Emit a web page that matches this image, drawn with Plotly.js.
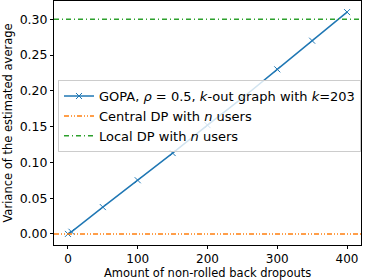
<!DOCTYPE html>
<html><head><meta charset="utf-8">
<script src="https://cdn.plot.ly/plotly-3.0.1.min.js"></script>
<style>body{margin:0;padding:0;}#c{width:374px;height:280px;}</style>
</head><body><div id="c"></div>
<script>
const dropouts = [0, 5, 50, 100, 150, 200, 250, 300, 350, 400];
const gopaVar = [0.0, 0.003, 0.0375, 0.075, 0.113, 0.152, 0.19, 0.23, 0.27, 0.31];
const centralDP = [0.0, 0.0];
const localDP = [0.30, 0.30];
const xTitle = 'Amount of non-rolled back dropouts';
const yTitle = 'Variance of the estimated average';
const font = {family: 'DejaVu Sans', size: 13, color: '#000'};
const tickFont = {family: 'DejaVu Sans', size: 12, color: '#000'};
const titleFont = {family: 'DejaVu Sans', size: 11.5, color: '#000'};
const traces = [
  {x: dropouts, y: gopaVar, mode: 'lines+markers', name: 'GOPA, <i>ρ</i> = 0.5, <i>k</i>-out graph with <i>k</i>=203',
   line: {color: '#1f77b4', width: 1.5},
   marker: {symbol: 'x-thin', size: 6, line: {color: '#1f77b4', width: 1}}},
  {x: [-20, 420], y: centralDP, mode: 'lines', name: 'Central DP with <i>n</i> users',
   line: {color: '#ff7f0e', width: 1.5, dash: '5px,2px,1px,2px,1px,2px'}},
  {x: [-20, 420], y: localDP, mode: 'lines', name: 'Local DP with <i>n</i> users',
   line: {color: '#2ca02c', width: 1.5, dash: '5px,3px,1px,3px'}}
];
const axisCommon = {showgrid: false, zeroline: false, showline: true, linecolor: '#000', linewidth: 1,
  mirror: true, ticks: 'outside', ticklen: 3, tickcolor: '#000', tickfont: tickFont, automargin: false};
const layout = {
  width: 374, height: 280,
  margin: {l: 54, r: 13, t: 1, b: 35},
  paper_bgcolor: '#fff', plot_bgcolor: '#fff',
  font: font,
  showlegend: true,
  xaxis: Object.assign({}, axisCommon, {range: [-20, 420], tickvals: [0, 100, 200, 300, 400]}),
  yaxis: Object.assign({}, axisCommon, {range: [-0.0155, 0.3255], tickvals: [0, 0.05, 0.1, 0.15, 0.2, 0.25, 0.3],
    tickformat: '.2f', tickfont: {family: 'DejaVu Sans', size: 12.5, color: '#000'},
    title: {text: yTitle, font: titleFont, standoff: 4}}),
  annotations: [{text: xTitle, xref: 'paper', yref: 'paper', x: 0.5, y: -35/244,
    xanchor: 'center', yanchor: 'bottom', showarrow: false, font: titleFont, borderpad: 0, yshift: -1}],
  legend: {x: 0.013, y: 0.676, xanchor: 'left', yanchor: 'top', bgcolor: 'rgba(255,255,255,0.8)',
    bordercolor: '#ccc', borderwidth: 1, font: font, tracegroupgap: 0, itemwidth: 30}
};
Plotly.newPlot('c', traces, layout, {displayModeBar: false, staticPlot: true});
</script></body></html>
